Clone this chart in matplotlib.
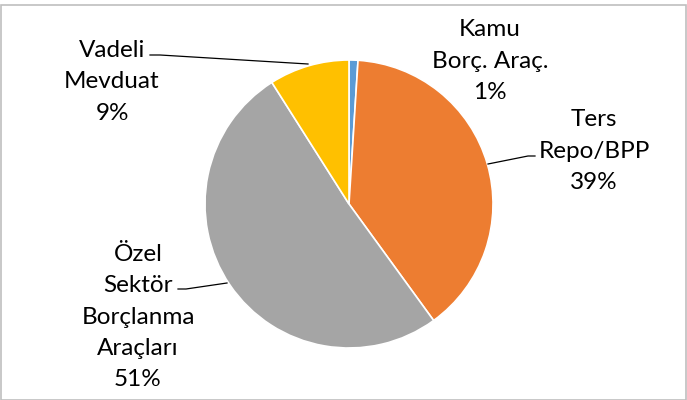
import matplotlib.pyplot as plt
from matplotlib.patches import Rectangle

labels = ['Kamu\nBorç. Araç.', 'Ters\nRepo/BPP', 'Özel\nSektör\nBorçlanma\nAraçları', 'Vadeli\nMevduat']
values = [1, 39, 51, 9]
colors = ['#5B9BD5', '#ED7D31', '#A5A5A5', '#FFC000']

W, H = 687, 400
fig = plt.figure(figsize=(W / 100, H / 100), dpi=100)
plt.rcParams['font.family'] = ['Lato', 'DejaVu Sans']

# pie centre (349, 204) px from top-left, radius 144 px
cx, cy, r = 349, 204, 144
ax = fig.add_axes([(cx - r) / W, (H - cy - r) / H, 2 * r / W, 2 * r / H])
ax.pie(values, colors=colors, startangle=90, counterclock=False, radius=1,
       wedgeprops=dict(edgecolor='white', linewidth=1.2))
ax.set_xlim(-1, 1)
ax.set_ylim(-1, 1)
ax.set_aspect('equal')
ax.axis('off')


def px(x, y):
    # figure pixel (top-left origin) -> data coords of pie axes
    return (x - cx) / r, (cy - y) / r


label_pos = [(490, 61), (594, 151), (138, 317), (112, 82)]
for lab, v, (x, y) in zip(labels, values, label_pos):
    tx, ty = px(x, y)
    ax.text(tx, ty, f'{lab}\n{v}%', ha='center', va='center', fontsize=17.5,
            linespacing=1.6, color='#000000', clip_on=False)

leaders = [
    [(150, 55), (160, 55), (308, 64)],
    [(535, 156), (528, 156), (488, 164)],
    [(178, 289), (186, 289), (227, 283)],
]
for pts in leaders:
    xs, ys = zip(*[px(a, b) for a, b in pts])
    ax.plot(xs, ys, color='black', lw=0.9, clip_on=False)

fig.patches.append(Rectangle((0.5 / W, 0.5 / H), 1 - 1.5 / W, 1 - 5 / H,
                             transform=fig.transFigure, fill=False,
                             edgecolor='#BFBFBF', lw=1.2))

fig.savefig('out.png', dpi=100)
